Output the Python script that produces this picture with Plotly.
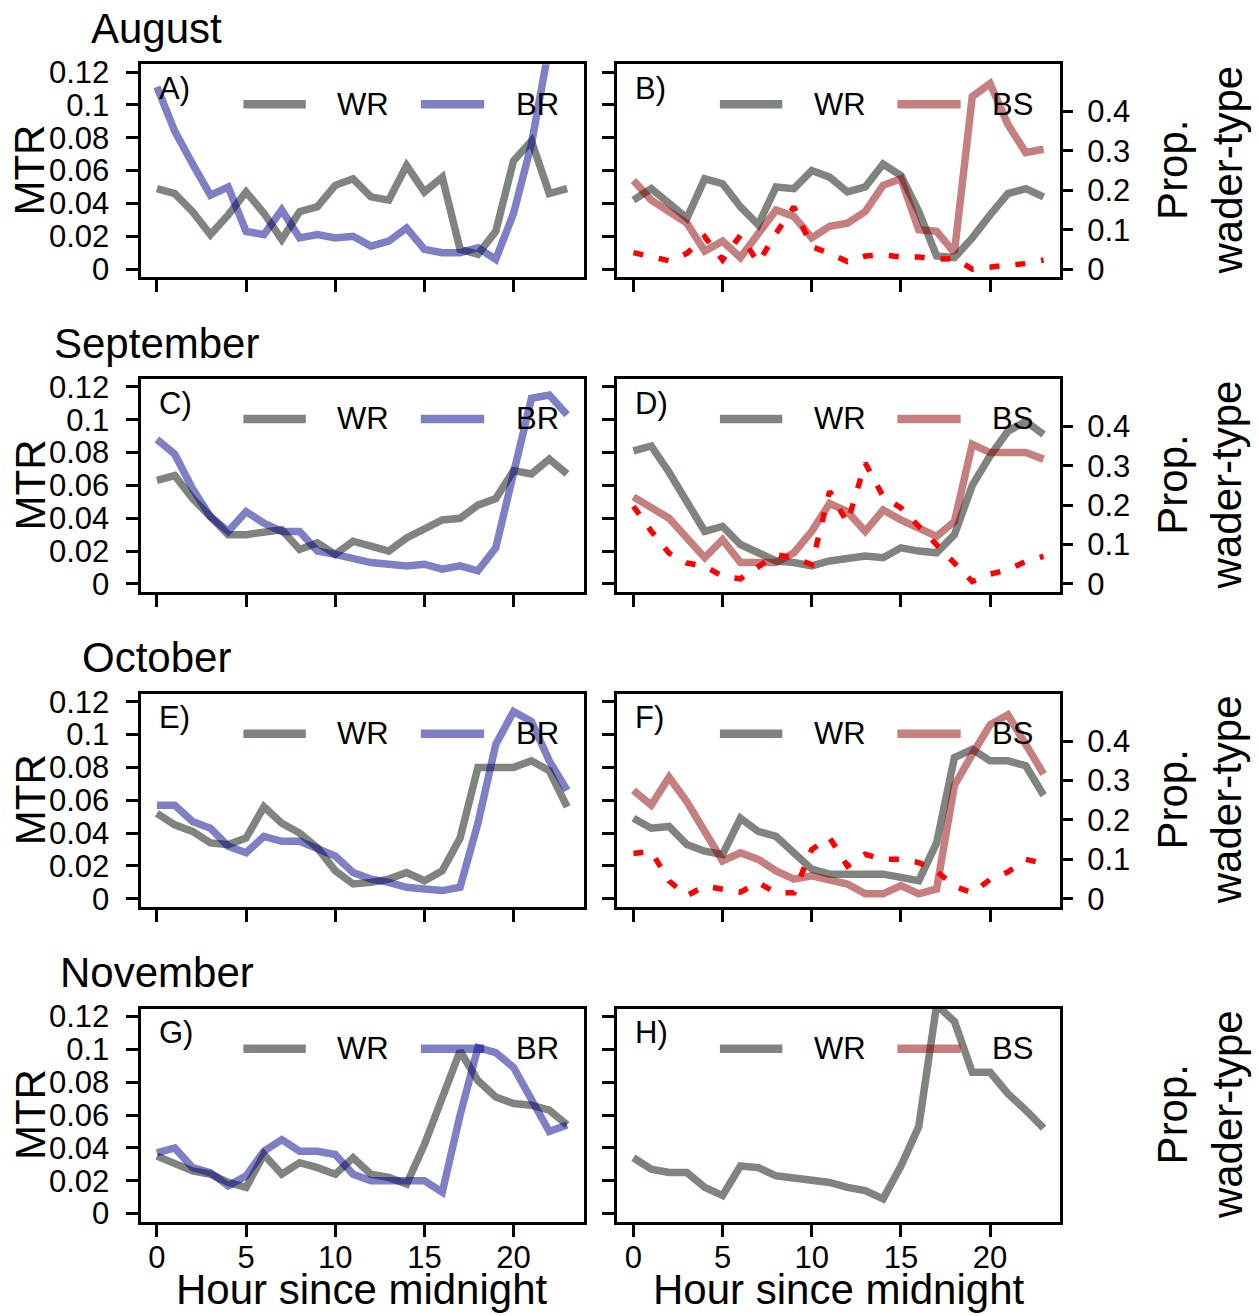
import plotly.graph_objects as go

hours = list(range(24))
month_titles = ["August", "September", "October", "November"]
left_letters = ["A)", "C)", "E)", "G)"]
right_letters = ["B)", "D)", "F)", "H)"]
mtr_ticks = [0, 0.02, 0.04, 0.06, 0.08, 0.1, 0.12]
mtr_ticktext = ["0", "0.02", "0.04", "0.06", "0.08", "0.1", "0.12"]
prop_ticks = [0, 0.1, 0.2, 0.3, 0.4]
prop_ticktext = ["0", "0.1", "0.2", "0.3", "0.4"]
hour_ticks = [0, 5, 10, 15, 20]

# ---- August ----
aug_wr_left = [0.049, 0.046, 0.035, 0.021, 0.033, 0.047, 0.034, 0.018, 0.035, 0.038, 0.051, 0.055,
               0.044, 0.042, 0.063, 0.047, 0.056, 0.012, 0.009, 0.023, 0.066, 0.078, 0.046, 0.049]
aug_br = [0.111, 0.084, 0.064, 0.045, 0.050, 0.023, 0.021, 0.036, 0.019, 0.021, 0.019, 0.020,
          0.014, 0.017, 0.025, 0.012, 0.010, 0.010, 0.013, 0.006, 0.034, 0.076, 0.136, 0.150]
aug_wr_right = [0.042, 0.049, 0.040, 0.031, 0.055, 0.052, 0.038, 0.027, 0.050, 0.049, 0.060, 0.056,
                0.047, 0.050, 0.064, 0.057, 0.035, 0.008, 0.007, 0.019, 0.033, 0.046, 0.049, 0.044]
aug_bs = [0.054, 0.042, 0.035, 0.028, 0.011, 0.017, 0.007, 0.022, 0.036, 0.032, 0.019, 0.026,
          0.028, 0.035, 0.051, 0.055, 0.024, 0.023, 0.010, 0.105, 0.113, 0.088, 0.071, 0.073]
aug_prop = [0.042, 0.031, 0.021, 0.040, 0.082, 0.023, 0.086, 0.016, 0.091, 0.158, 0.057, 0.040,
            0.019, 0.033, 0.036, 0.031, 0.031, 0.025, 0.027, 0.000, 0.006, 0.010, 0.014, 0.023]

# ---- September ----
sep_wr_left = [0.063, 0.066, 0.052, 0.041, 0.030, 0.030, 0.032, 0.033, 0.021, 0.025, 0.018, 0.026,
               0.023, 0.020, 0.028, 0.034, 0.039, 0.040, 0.048, 0.052, 0.069, 0.067, 0.076, 0.067]
sep_br = [0.088, 0.079, 0.058, 0.041, 0.032, 0.044, 0.037, 0.032, 0.032, 0.020, 0.018, 0.015,
          0.013, 0.012, 0.011, 0.012, 0.009, 0.011, 0.008, 0.022, 0.066, 0.113, 0.115, 0.103]
sep_wr_right = [0.081, 0.084, 0.068, 0.050, 0.032, 0.035, 0.024, 0.019, 0.014, 0.013, 0.011, 0.014,
                0.016, 0.017, 0.016, 0.022, 0.020, 0.019, 0.030, 0.060, 0.078, 0.093, 0.099, 0.091]
sep_bs = [0.053, 0.047, 0.040, 0.028, 0.016, 0.027, 0.013, 0.013, 0.013, 0.019, 0.032, 0.049,
          0.044, 0.032, 0.045, 0.039, 0.034, 0.029, 0.038, 0.085, 0.080, 0.080, 0.080, 0.076]
sep_prop = [0.197, 0.134, 0.078, 0.053, 0.045, 0.019, 0.013, 0.045, 0.074, 0.066, 0.049, 0.235,
            0.155, 0.307, 0.222, 0.193, 0.146, 0.100, 0.053, 0.006, 0.025, 0.036, 0.057, 0.070]

# ---- October ----
oct_wr_left = [0.052, 0.045, 0.041, 0.034, 0.033, 0.037, 0.056, 0.046, 0.040, 0.031, 0.017, 0.009,
               0.010, 0.012, 0.016, 0.011, 0.017, 0.037, 0.080, 0.080, 0.080, 0.084, 0.078, 0.056]
oct_br = [0.057, 0.057, 0.047, 0.043, 0.032, 0.028, 0.038, 0.035, 0.035, 0.031, 0.026, 0.016,
          0.012, 0.010, 0.007, 0.006, 0.005, 0.007, 0.046, 0.094, 0.114, 0.108, 0.084, 0.066]
oct_wr_right = [0.049, 0.043, 0.044, 0.033, 0.029, 0.027, 0.049, 0.041, 0.038, 0.028, 0.018, 0.015,
                0.015, 0.015, 0.015, 0.013, 0.011, 0.034, 0.086, 0.091, 0.084, 0.084, 0.081, 0.063]
oct_bs = [0.066, 0.057, 0.074, 0.059, 0.041, 0.023, 0.028, 0.024, 0.017, 0.012, 0.014, 0.011,
          0.009, 0.003, 0.003, 0.008, 0.003, 0.006, 0.069, 0.088, 0.106, 0.112, 0.095, 0.076]
oct_prop = [0.115, 0.120, 0.045, 0.008, 0.032, 0.024, 0.017, 0.041, 0.015, 0.015, 0.125, 0.155,
            0.083, 0.113, 0.100, 0.100, 0.092, 0.070, 0.032, 0.015, 0.049, 0.068, 0.100, 0.090]

# ---- November ----
nov_wr_left = [0.035, 0.031, 0.026, 0.024, 0.019, 0.016, 0.036, 0.024, 0.031, 0.028, 0.024, 0.034,
               0.024, 0.022, 0.018, 0.042, 0.070, 0.099, 0.081, 0.071, 0.067, 0.066, 0.063, 0.054]
nov_br = [0.037, 0.040, 0.028, 0.025, 0.017, 0.023, 0.038, 0.045, 0.038, 0.038, 0.036, 0.024,
          0.020, 0.020, 0.020, 0.020, 0.013, 0.060, 0.101, 0.098, 0.089, 0.070, 0.050, 0.054]
nov_wr_right = [0.034, 0.027, 0.025, 0.025, 0.016, 0.011, 0.029, 0.028, 0.023, 0.022, 0.020, 0.019,
                0.016, 0.014, 0.009, 0.029, 0.053, 0.127, 0.117, 0.086, 0.086, 0.073, 0.063, 0.052]

left_wr = [aug_wr_left, sep_wr_left, oct_wr_left, nov_wr_left]
left_br = [aug_br, sep_br, oct_br, nov_br]
right_wr = [aug_wr_right, sep_wr_right, oct_wr_right, nov_wr_right]
right_bs = [aug_bs, sep_bs, oct_bs, None]
right_prop = [aug_prop, sep_prop, oct_prop, None]

# ---- styling ----
W, H = 1258, 1316
FONT = "Liberation Sans, Arial, sans-serif"
C_WR = "rgba(0,10,0,0.5)"
C_BR = "rgba(0,0,139,0.5)"
C_BS = "rgba(139,0,0,0.5)"
C_PROP = "rgb(255,0,0)"
LW = 7.5
TICK_FS = 31
TITLE_FS = 42

left_px = (140.5, 583.5)
right_px = (617.0, 1060.0)
row_top0 = 63.8
row_h = 213.1
row_step = 315.2

# vertical calibration of page pixels (measured offset / scale of the rendered page)
V_OFF, V_SCALE = 8.6, 0.9867


def py(t):
    """paper y for a target pixel row t (from top)"""
    return 1 - ((t - V_OFF) / V_SCALE) / H


def sfx(k):
    return "" if k == 1 else str(k)


def xdom(px):
    return [px[0] / W, px[1] / W]


def ydom(i):
    top = row_top0 + i * row_step
    bot = top + row_h
    return [py(bot), py(top)]


fig = go.Figure()
layout = dict(
    width=W, height=H, autosize=False,
    margin=dict(l=0, r=0, t=0, b=0),
    paper_bgcolor="white", plot_bgcolor="white",
    showlegend=False,
    font=dict(family=FONT, size=TICK_FS, color="black"),
)
annotations = []
shapes = []

axis_common = dict(
    showline=True, linecolor="black", linewidth=3, mirror=True,
    ticks="outside", ticklen=12, tickwidth=3, tickcolor="black",
    showgrid=False, zeroline=False, fixedrange=True,
    tickfont=dict(family=FONT, size=TICK_FS, color="black"),
)

for i in range(4):
    kl = 2 * i + 1
    kr = 2 * i + 2
    ks = 9 + i
    last = (i == 3)
    for k, px in ((kl, left_px), (kr, right_px)):
        layout[f"xaxis{k}"] = dict(
            axis_common, domain=xdom(px), range=[-0.92, 23.92], anchor=f"y{sfx(k)}",
            tickvals=hour_ticks, ticktext=[str(v) for v in hour_ticks],
            showticklabels=last, ticklabelstandoff=-6,
        )
        layout[f"yaxis{k}"] = dict(
            axis_common, domain=ydom(i), range=[-0.0048, 0.1248], anchor=f"x{sfx(k)}",
            tickvals=mtr_ticks, ticktext=mtr_ticktext,
            showticklabels=(k == kl), ticklabelstandoff=10,
        )
    layout[f"yaxis{ks}"] = dict(
        showline=False, ticks="outside", ticklen=12, tickwidth=3, tickcolor="black",
        showgrid=False, zeroline=False, fixedrange=True,
        overlaying=f"y{sfx(kr)}", anchor=f"x{sfx(kr)}", side="right",
        range=[-0.02, 0.52], tickvals=prop_ticks, ticktext=prop_ticktext,
        tickfont=dict(family=FONT, size=TICK_FS, color="black"), ticklabelstandoff=8,
    )

    xl, yl = f"x{sfx(kl)}", f"y{sfx(kl)}"
    xr, yr = f"x{sfx(kr)}", f"y{sfx(kr)}"
    # data traces: left panel
    fig.add_trace(go.Scatter(x=hours, y=left_wr[i], mode="lines", xaxis=xl, yaxis=yl,
                             line=dict(color=C_WR, width=LW), name="WR"))
    fig.add_trace(go.Scatter(x=hours, y=left_br[i], mode="lines", xaxis=xl, yaxis=yl,
                             line=dict(color=C_BR, width=LW), name="BR"))
    # right panel
    fig.add_trace(go.Scatter(x=hours, y=right_wr[i], mode="lines", xaxis=xr, yaxis=yr,
                             line=dict(color=C_WR, width=LW), name="WR"))
    if right_bs[i] is not None:
        fig.add_trace(go.Scatter(x=hours, y=right_bs[i], mode="lines", xaxis=xr, yaxis=yr,
                                 line=dict(color=C_BS, width=LW), name="BS"))
    if right_prop[i] is not None:
        fig.add_trace(go.Scatter(x=hours, y=right_prop[i], mode="lines", xaxis=xr, yaxis=f"y{ks}",
                                 line=dict(color=C_PROP, width=5.5, dash="10px,16px"), name="Prop."))

    # panel letters and in-panel legends
    for k, letter, second, c2 in ((kl, left_letters[i], "BR", C_BR), (kr, right_letters[i], "BS", C_BS)):
        xa, yd = f"x{sfx(k)}", f"y{sfx(k)} domain"
        annotations.append(dict(text=letter, x=0, y=0.887, xref=xa, yref=yd,
                                xanchor="left", yanchor="middle", showarrow=False,
                                font=dict(family=FONT, size=TICK_FS, color="black")))
        shapes.append(dict(type="line", xref=xa, yref=yd, x0=4.85, x1=8.35,
                           y0=0.812, y1=0.812, line=dict(color=C_WR, width=8.5), layer="above"))
        annotations.append(dict(text="WR", x=10.0, y=0.812, xref=xa, yref=yd,
                                xanchor="left", yanchor="middle", showarrow=False,
                                font=dict(family=FONT, size=TICK_FS, color="black")))
        shapes.append(dict(type="line", xref=xa, yref=yd, x0=14.8, x1=18.35,
                           y0=0.812, y1=0.812, line=dict(color=c2, width=8.5), layer="above"))
        annotations.append(dict(text=second, x=20.0, y=0.812, xref=xa, yref=yd,
                                xanchor="left", yanchor="middle", showarrow=False,
                                font=dict(family=FONT, size=TICK_FS, color="black")))

    # month title
    top = row_top0 + i * row_step
    annotations.append(dict(text=month_titles[i], x=156.7 / W, y=py(top - 36),
                            xref="paper", yref="paper", xanchor="center", yanchor="middle",
                            showarrow=False, font=dict(family=FONT, size=TITLE_FS, color="black")))
    # y titles
    ymid = py(top + row_h / 2)
    annotations.append(dict(text="MTR", x=30 / W, y=ymid, xref="paper", yref="paper",
                            xanchor="center", yanchor="middle", textangle=-90, showarrow=False,
                            font=dict(family=FONT, size=TITLE_FS, color="black")))
    annotations.append(dict(text="Prop.<br>wader-type", x=1200 / W, y=ymid, xref="paper", yref="paper",
                            xanchor="center", yanchor="middle", textangle=-90, showarrow=False,
                            font=dict(family=FONT, size=TITLE_FS, color="black")))

# x-axis titles
for px in (left_px, right_px):
    annotations.append(dict(text="Hour since midnight", x=(px[0] + px[1]) / 2 / W, y=-8 / H,
                            xref="paper", yref="paper", xanchor="center", yanchor="bottom",
                            borderpad=0, showarrow=False,
                            font=dict(family=FONT, size=TITLE_FS, color="black")))

layout["annotations"] = annotations
layout["shapes"] = shapes
fig.update_layout(**layout)
fig.write_html("out.html", include_plotlyjs=True, config={"displayModeBar": False})
